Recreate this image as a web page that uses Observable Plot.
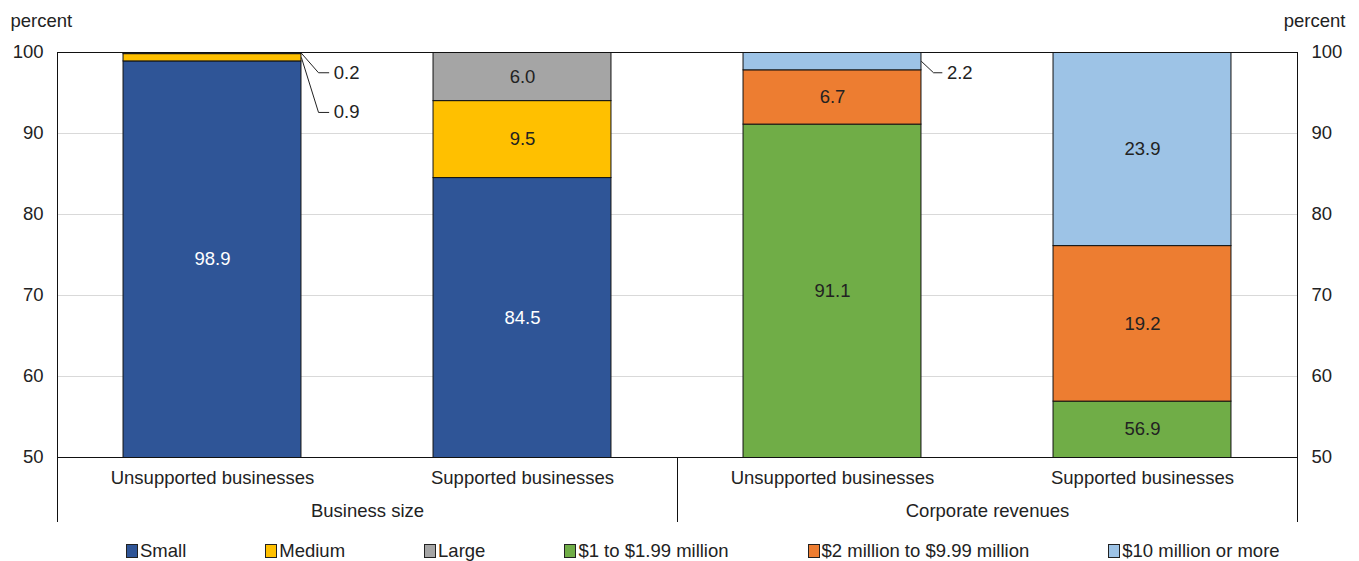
<!DOCTYPE html>
<html><head><meta charset="utf-8">
<script src="https://cdn.jsdelivr.net/npm/d3@7"></script>
<script src="https://cdn.jsdelivr.net/npm/@observablehq/plot@0.6"></script>
<style>
body{margin:0;background:#fff;font-family:"Liberation Sans",Arial,sans-serif;color:#222}
#legend{display:flex;gap:79px;padding-left:126px;padding-top:4px;height:29px;align-items:center;font-size:18.5px;white-space:nowrap}
.item{display:flex;align-items:center}
.sw{width:10px;height:12px;border:1px solid #222;margin-right:2px}
</style></head><body><div id="chart"></div><div id="legend"></div>
<script>
const groups = ["Business size", "Corporate revenues"];
const categories = ["Unsupported businesses", "Supported businesses"];
const sizeSeries = ["Small", "Medium", "Large"];
const revenueSeries = ["$1 to $1.99 million", "$2 million to $9.99 million", "$10 million or more"];
const sizeUnsupported = [98.9, 0.9, 0.2];
const sizeSupported = [84.5, 9.5, 6.0];
const revenueUnsupported = [91.1, 6.7, 2.2];
const revenueSupported = [56.9, 19.2, 23.9];
const seriesNames = [...sizeSeries, ...revenueSeries];
const seriesColors = ["#2F5597", "#FFC000", "#A5A5A5", "#70AD47", "#ED7D31", "#9DC3E6"];
const yTicks = [50, 60, 70, 80, 90, 100];
const gridTicks = [60, 70, 80, 90];
// callouts for thin segments: column index, series, label level (percent)
const callouts = [
  {col: 0, series: "Large", level: 97.5, reach: [0.055, 0.088]},
  {col: 0, series: "Medium", level: 92.6, reach: [0.055, 0.088]},
  {col: 2, series: "$10 million or more", level: 97.5, reach: [0.039, 0.066]}
];

const columns = [
  {series: sizeSeries, values: sizeUnsupported},
  {series: sizeSeries, values: sizeSupported},
  {series: revenueSeries, values: revenueUnsupported},
  {series: revenueSeries, values: revenueSupported}
];
const yMin = 50, yMax = 100;
const half = 0.287;
const rows = [];
columns.forEach((c, col) => {
  let acc = 0;
  c.values.forEach((v, i) => {
    rows.push({col, x: col + 0.5, series: c.series[i], value: v, y1: acc, y2: acc + v, lo: Math.max(acc, yMin)});
    acc += v;
  });
});
const inside = rows.filter(r => r.value >= 3);
const leaderPts = [];
const calloutLabels = [];
callouts.forEach((c, k) => {
  const r = rows.find(d => d.col === c.col && d.series === c.series);
  const xr = r.x + half;
  leaderPts.push({id: k, x: xr, y: (r.y1 + r.y2) / 2});
  leaderPts.push({id: k, x: xr + c.reach[0], y: c.level});
  leaderPts.push({id: k, x: xr + c.reach[1], y: c.level});
  calloutLabels.push({x: xr + c.reach[1], y: c.level, text: r.value.toFixed(1)});
});

const plot = Plot.plot({
  width: 1359,
  height: 532,
  marginLeft: 57,
  marginRight: 62,
  marginTop: 52,
  marginBottom: 75,
  style: {fontFamily: "'Liberation Sans', Arial, sans-serif", fontSize: "18.5px", color: "#222", background: "#fff"},
  x: {type: "linear", domain: [0, 4]},
  y: {domain: [yMin, yMax]},
  color: {domain: seriesNames, range: seriesColors},
  marks: [
    Plot.ruleY(gridTicks, {stroke: "#d9d9d9", strokeWidth: 1}),
    Plot.rectY(rows, {x1: d => d.x - half, x2: d => d.x + half, y1: "y1", y2: "y2", fill: "series", stroke: "#111", strokeWidth: 1, clip: true}),
    Plot.frame({stroke: "#111"}),
    Plot.text(inside, {x: "x", y: d => (d.lo + d.y2) / 2, text: d => d.value.toFixed(1), fill: d => d.series === "Small" ? "#fff" : "#222"}),
    Plot.line(leaderPts, {x: "x", y: "y", z: "id", stroke: "#222", strokeWidth: 1}),
    Plot.text(calloutLabels, {x: "x", y: "y", text: "text", textAnchor: "start", dx: 5, fill: "#222"}),
    Plot.axisY(yTicks, {anchor: "left", tickSize: 0, tickPadding: 14, label: null}),
    Plot.axisY(yTicks, {anchor: "right", tickSize: 0, tickPadding: 14, label: null}),
    Plot.axisX([0.5, 1.5, 2.5, 3.5], {tickSize: 0, tickPadding: 13, tickFormat: d => categories[Math.floor(d) % 2], label: null}),
    Plot.axisX([1, 3], {tickSize: 0, tickPadding: 46, tickFormat: d => groups[(d - 1) / 2], label: null}),
    Plot.axisX([0, 2, 4], {tickSize: 65, tickFormat: () => "", label: null, stroke: "#111"}),
    Plot.text(["percent"], {text: d => d, frameAnchor: "top-left", dx: -47, dy: -39, textAnchor: "start"}),
    Plot.text(["percent"], {text: d => d, frameAnchor: "top-right", dx: 48, dy: -39, textAnchor: "end"})
  ]
});
document.getElementById("chart").appendChild(plot);

const legend = document.getElementById("legend");
seriesNames.forEach((s, i) => {
  const item = document.createElement("div");
  item.className = "item";
  const sw = document.createElement("span");
  sw.className = "sw";
  sw.style.background = seriesColors[i];
  const t = document.createElement("span");
  t.textContent = s;
  item.appendChild(sw);
  item.appendChild(t);
  legend.appendChild(item);
});
</script></body></html>
